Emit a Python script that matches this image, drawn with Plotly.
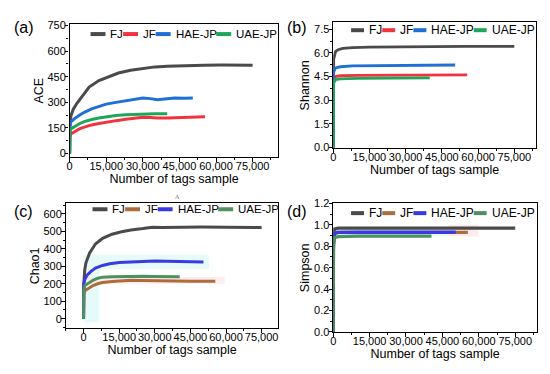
import plotly.graph_objects as go

W, H = 550, 374

series_names = ["FJ", "JF", "HAE-JP", "UAE-JP"]
colors_top = ["#4a4a4a", "#f2333f", "#1f6fd4", "#1ea65a"]
colors_bottom = ["#4a4a4a", "#ad6c3a", "#3a3ae0", "#4f9060"]

# ---------------- (a) ACE ----------------
ace_fj_x = [0, 100, 500, 1500, 3000, 5000, 8000, 12000, 16000, 20000, 25000, 30000, 35000, 40000, 47000, 55000, 62000, 70000, 75000]
ace_fj_y = [0, 150, 220, 260, 295, 335, 390, 428, 452, 472, 488, 500, 508, 512, 516, 518, 519, 519, 518]
ace_jf_x = [0, 100, 500, 2000, 4000, 6000, 9000, 12000, 15000, 19000, 23000, 27000, 30000, 33000, 36000, 40000, 45000, 50000, 55500]
ace_jf_y = [0, 100, 115, 130, 145, 155, 168, 176, 185, 193, 201, 208, 213, 212, 208, 209, 210, 213, 216]
ace_hae_x = [0, 100, 500, 2000, 4000, 6000, 9000, 12000, 15000, 19000, 23000, 27000, 30000, 33000, 36000, 39000, 43000, 47000, 50500]
ace_hae_y = [0, 165, 185, 205, 225, 242, 262, 276, 290, 300, 308, 318, 326, 322, 316, 320, 325, 324, 325]
ace_uae_x = [0, 100, 500, 2000, 4000, 6000, 9000, 12000, 15000, 19000, 23000, 27000, 31000, 35000, 40000]
ace_uae_y = [0, 130, 145, 160, 175, 187, 200, 208, 216, 223, 228, 231, 234, 233, 234]

# ---------------- (b) Shannon ----------------
sh_fj_x = [0, 200, 1000, 2000, 4000, 8000, 15000, 25000, 40000, 55000, 75000]
sh_fj_y = [0, 5.6, 6.1, 6.2, 6.28, 6.33, 6.37, 6.39, 6.4, 6.41, 6.41]
sh_jf_x = [0, 200, 1000, 3000, 10000, 25000, 40000, 55500]
sh_jf_y = [0, 4.3, 4.5, 4.55, 4.57, 4.59, 4.6, 4.6]
sh_hae_x = [0, 200, 1000, 3000, 8000, 20000, 35000, 50500]
sh_hae_y = [0, 4.8, 5.05, 5.12, 5.17, 5.2, 5.22, 5.23]
sh_uae_x = [0, 200, 1000, 3000, 10000, 25000, 40000]
sh_uae_y = [0, 4.1, 4.3, 4.35, 4.38, 4.4, 4.42]

# ---------------- (c) Chao1 ----------------
ch_fj_x = [0, 100, 500, 1000, 2500, 5000, 8000, 12000, 16000, 20000, 25000, 29000, 33000, 40000, 50000, 60000, 70000, 75000]
ch_fj_y = [0, 200, 280, 320, 375, 428, 460, 484, 498, 508, 516, 524, 522, 525, 525, 524, 523, 522]
ch_jf_x = [0, 100, 500, 2000, 4000, 6000, 8000, 12000, 16000, 20000, 25000, 30000, 35000, 40000, 45000, 50000, 55500]
ch_jf_y = [0, 140, 160, 175, 190, 200, 207, 213, 218, 220, 219, 217, 216, 216, 215, 215, 214]
ch_hae_x = [0, 100, 500, 1500, 3000, 5000, 8000, 11000, 15000, 20000, 25000, 30000, 35000, 40000, 45000, 50500]
ch_hae_y = [0, 200, 225, 250, 270, 290, 305, 315, 322, 326, 327, 330, 329, 328, 327, 325]
ch_uae_x = [0, 100, 500, 2000, 4000, 6000, 8000, 12000, 16000, 20000, 25000, 30000, 35000, 40500]
ch_uae_y = [0, 150, 190, 205, 220, 232, 238, 240, 242, 241, 243, 242, 241, 240]

# ---------------- (d) Simpson ----------------
si_fj_x = [0, 100, 500, 2000, 10000, 40000, 75000]
si_fj_y = [0, 0.85, 0.96, 0.97, 0.97, 0.97, 0.97]
si_jf_x = [0, 100, 500, 2000, 10000, 30000, 55500]
si_jf_y = [0, 0.82, 0.92, 0.93, 0.93, 0.93, 0.93]
si_hae_x = [0, 100, 500, 2000, 10000, 30000, 50500]
si_hae_y = [0, 0.82, 0.92, 0.93, 0.931, 0.931, 0.931]
si_uae_x = [0, 100, 500, 2000, 10000, 25000, 40500]
si_uae_y = [0, 0.78, 0.88, 0.89, 0.895, 0.895, 0.895]

x_ticks = [0, 15000, 30000, 45000, 60000, 75000]

panels = [
    dict(key="", label="(a)", ytitle="ACE",
         data=[(ace_fj_x, ace_fj_y), (ace_jf_x, ace_jf_y), (ace_hae_x, ace_hae_y), (ace_uae_x, ace_uae_y)],
         colors=colors_top, px=(67, 277), py=(19, 156), xr=[0, 85600], yr=[-20, 757],
         ydtick=150, yminor=75, yfmt="d", lw=3),
    dict(key="2", label="(b)", ytitle="Shannon",
         data=[(sh_fj_x, sh_fj_y), (sh_jf_x, sh_jf_y), (sh_hae_x, sh_hae_y), (sh_uae_x, sh_uae_y)],
         colors=colors_top, px=(332, 536), py=(17, 147), xr=[0, 84000], yr=[-0.05, 7.93],
         ydtick=1.5, yminor=0.75, yfmt=".1f", lw=2.8),
    dict(key="3", label="(c)", ytitle="Chao1",
         data=[(ch_fj_x, ch_fj_y), (ch_jf_x, ch_jf_y), (ch_hae_x, ch_hae_y), (ch_uae_x, ch_uae_y)],
         colors=colors_bottom, px=(63, 277), py=(204, 333), xr=[-7540, 82100], yr=[-55, 660],
         ydtick=100, yminor=50, yfmt="d", lw=3),
    dict(key="4", label="(d)", ytitle="Simpson",
         data=[(si_fj_x, si_fj_y), (si_jf_x, si_jf_y), (si_hae_x, si_hae_y), (si_uae_x, si_uae_y)],
         colors=colors_bottom, px=(332, 537), py=(204, 337), xr=[0, 84000], yr=[-0.003, 1.2],
         ydtick=0.2, yminor=0.1, yfmt=".1f", lw=3.3),
]

FONT = "Arial, 'Liberation Sans', sans-serif"

fig = go.Figure()
layout = dict(width=W, height=H, margin=dict(l=0, r=0, t=0, b=0),
              paper_bgcolor="white", plot_bgcolor="white", showlegend=False,
              font=dict(family=FONT, size=11, color="black"))
annotations = []
shapes = []

def fx(p):
    return p / W

def fy(p):
    return 1 - p / H

# legend layout per panel: (start x px, y px, line length px, font size)
legend_pos = [(88, 29, 15, 11.5), (350, 25, 13, 12), (90, 210, 15, 11.5), (350, 214, 13, 12)]
text_w = {"FJ": 1.111, "JF": 1.111, "HAE-JP": 3.556, "UAE-JP": 3.556}

for i, p in enumerate(panels):
    k = p["key"]
    xa, ya = "x" + k, "y" + k
    for (xs, ys), name, c in zip(p["data"], series_names, p["colors"]):
        fig.add_trace(go.Scatter(x=xs, y=ys, mode="lines", name=name,
                                 line=dict(color=c, width=p["lw"]),
                                 xaxis=xa, yaxis=ya, showlegend=False))
    ax_common = dict(showline=True, linecolor="black", linewidth=1.3, mirror=True,
                     ticks="outside", ticklen=3.5, tickwidth=1.2, tickcolor="black",
                     showgrid=False, zeroline=False,
                     tickfont=dict(family=FONT, size=11, color="black"))
    layout["xaxis" + k] = dict(ax_common, domain=[fx(p["px"][0]), fx(p["px"][1])],
                               range=p["xr"], tickmode="array", tickvals=x_ticks,
                               tickformat=",d", tickangle=0, anchor=ya, ticklabelstandoff=-5,
                               minor=dict(ticks="outside", ticklen=2, dtick=7500, tick0=0, tickcolor="black"),
                               title=dict(text="Number of tags sample", standoff=0,
                                          font=dict(family=FONT, size=12.5, color="black")))
    layout["yaxis" + k] = dict(ax_common, domain=[fy(p["py"][1]), fy(p["py"][0])],
                               range=p["yr"], dtick=p["ydtick"], tick0=0, tickformat=p["yfmt"],
                               anchor=xa, ticklabelstandoff=-3,
                               minor=dict(ticks="outside", ticklen=2, dtick=p["yminor"], tick0=0, tickcolor="black"),
                               title=dict(text=p["ytitle"], standoff=1,
                                          font=dict(family=FONT, size=12.5, color="black")))
    # panel label
    lab_x = 21 if i % 2 == 0 else 296
    lab_y = 22 if i < 2 else 212
    annotations.append(dict(text=p["label"], x=fx(lab_x), y=fy(lab_y), xref="paper", yref="paper",
                            showarrow=False, xanchor="center", yanchor="middle",
                            font=dict(family=FONT, size=16, color="black")))
    # custom compact legend
    sx, sy, ll, fs = legend_pos[i]
    cx = sx
    for name, c in zip(series_names, p["colors"]):
        shapes.append(dict(type="line", xref="paper", yref="paper",
                           x0=fx(cx), x1=fx(cx + ll), y0=fy(sy), y1=fy(sy),
                           line=dict(color=c, width=4)))
        cx += ll + 3
        annotations.append(dict(text=name, x=fx(cx), y=fy(sy), xref="paper", yref="paper",
                                showarrow=False, xanchor="left", yanchor="middle",
                                font=dict(family=FONT, size=fs, color="black")))
        cx += text_w[name] * fs + 2

# faint scan artefacts in (c) and (d)
for (x0, x1, y0, y1, col) in [(81, 97, 257, 327, "rgba(200,245,245,0.45)"),
                              (97, 207, 257, 272, "rgba(200,245,245,0.45)"),
                              (83, 223, 280, 287, "rgba(252,220,228,0.5)"),
                              (334, 448, 228, 238, "rgba(200,245,245,0.45)"),
                              (448, 478, 226, 238, "rgba(252,220,228,0.6)")]:
    shapes.append(dict(type="rect", xref="paper", yref="paper", x0=fx(x0), x1=fx(x1),
                       y0=fy(y1), y1=fy(y0), fillcolor=col, line=dict(width=0), layer="below"))

annotations.append(dict(text="A", x=fx(170), y=fy(197), xref="paper", yref="paper", showarrow=False,
                        font=dict(family="DejaVu Serif", size=6, color="#777")))

layout["annotations"] = annotations
layout["shapes"] = shapes
fig.update_layout(**layout)
fig.write_html("out.html", config={"displayModeBar": False},
               post_script="document.body.style.margin='0px';document.body.style.padding='0px';")
